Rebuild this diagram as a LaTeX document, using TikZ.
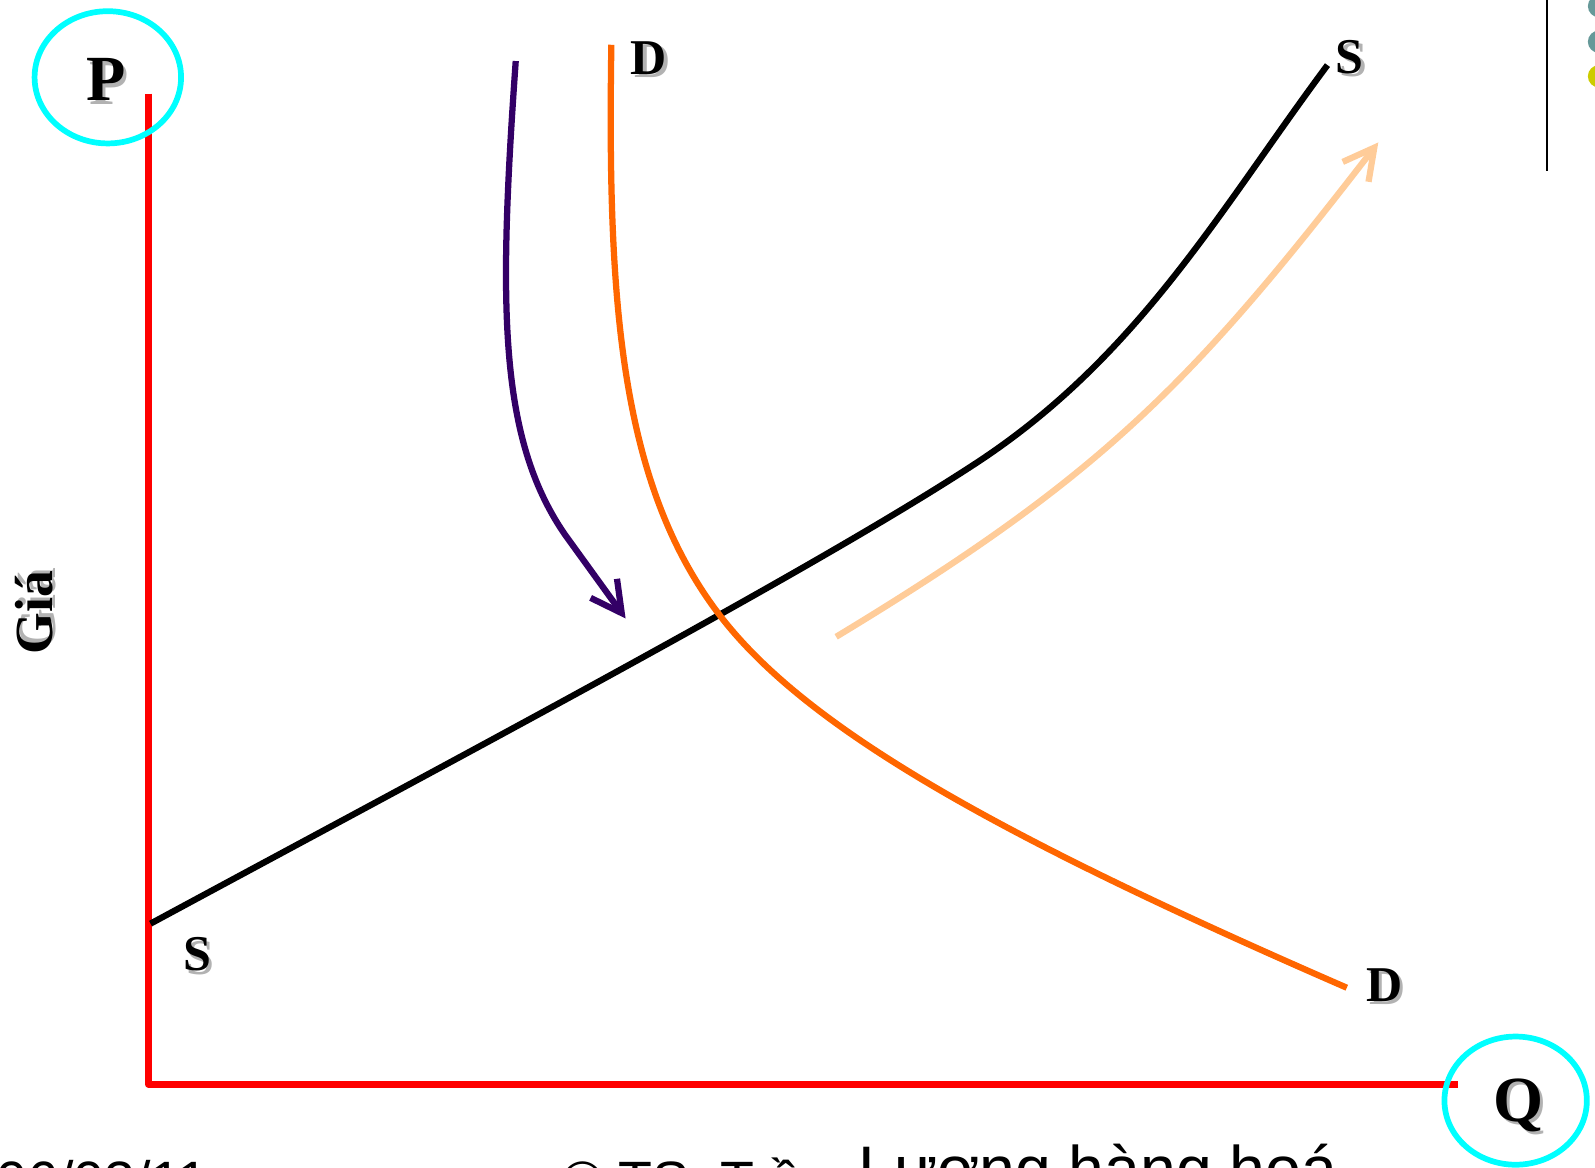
\documentclass[tikz,border=0pt]{standalone}
\usepackage{fontspec}
\setmainfont{Liberation Serif}
\newfontfamily\footfont{Liberation Sans}
\usepackage{xcolor}
\usetikzlibrary{arrows.meta}

\definecolor{axisred}{HTML}{FF0000}
\definecolor{ringcyan}{HTML}{00FFFF}
\definecolor{demandorange}{HTML}{FF6600}
\definecolor{shiftpurple}{HTML}{330066}
\definecolor{shiftpeach}{HTML}{FFCC99}
\definecolor{dotteal}{HTML}{669999}
\definecolor{dotyellow}{HTML}{CCCC00}

% bold letter with a soft grey shadow
\newcommand{\shtext}[1]{\makebox[0pt][l]{\kern0.9pt\raisebox{-0.9pt}{\textcolor{black!30}{#1}}}#1}

\begin{document}
\begin{tikzpicture}[
x=0.01cm, y=-0.01cm,
axis/.style={draw=axisred, line width=1.9pt, line join=round},
ring/.style={draw=ringcyan, line width=1.6pt},
curve/.style={line width=1.75pt},
movearrow/.style={curve, -{Straight Barb[length=3mm, width=3.2mm]}},
lbl/.style={font=\bfseries\fontsize{14}{16}\selectfont, inner sep=0pt},
bigl/.style={font=\bfseries\fontsize{18}{20}\selectfont, inner sep=0pt},
foot/.style={font=\footfont\fontsize{15.5}{17}\selectfont, inner sep=0pt, anchor=base west}
]
\useasboundingbox (0,0) rectangle (1568,1148);

% axes
\coordinate (ptop) at (146,92);
\coordinate (origin) at (146,1066);
\coordinate (qend) at (1433,1066);
\draw[axis] (ptop) -- (origin) -- (qend);

% axis letters in rings
\draw[ring] (106,76) ellipse (72 and 65);
\draw[ring] (1490,1082) ellipse (70 and 63);
\node[bigl] (P) at (104,80) {\shtext{P}};
\node[bigl] (Q) at (1493,1088) {\shtext{Q}};
\node[lbl, rotate=90, font=\bfseries\fontsize{15}{17}\selectfont] (gia) at (35,602) {\shtext{Giá}};

% supply
\draw[curve, black] (148,908) .. controls (450,745) and (800,560) .. (960,455)
  .. controls (1120,350) and (1200,205) .. (1305,64);
% demand
\draw[curve, demandorange] (601,44) .. controls (597,300) and (610,480) .. (710,608)
  .. controls (800,723) and (1000,830) .. (1324,971);

% shift arrows
\draw[movearrow, shiftpurple] (507,60) .. controls (490,300) and (490,430) .. (555,525) -- (615,608);
\draw[movearrow, shiftpeach] (822,626) .. controls (1080,470) and (1170,380) .. (1355,140);

% curve labels
\node[lbl] (dtop) at (638,59) {\shtext{D}};
\node[lbl] (stop) at (1327,58) {\shtext{S}};
\node[lbl] (sbot) at (194,940) {\shtext{S}};
\node[lbl] (dbot) at (1361,970) {\shtext{D}};

% slide furniture
\coordinate (rtop) at (1521,0);
\coordinate (rbot) at (1521,168);
\draw[line width=0.6pt] (rtop) -- (rbot);
\fill[dotteal] (1572,6) circle (11);
\fill[dotteal] (1572,41) circle (11);
\fill[dotyellow] (1572,75) circle (11);

% footer, cut by the page edge
\node[foot] (date) at (-4,1180) {06/03/11};
\node[foot] (author) at (552,1180) {© TS. Trần};
\node[foot, font=\footfont\fontsize{18}{20}\selectfont] (qty) at (843,1171) {Lượng hàng hoá};
\end{tikzpicture}
\end{document}
